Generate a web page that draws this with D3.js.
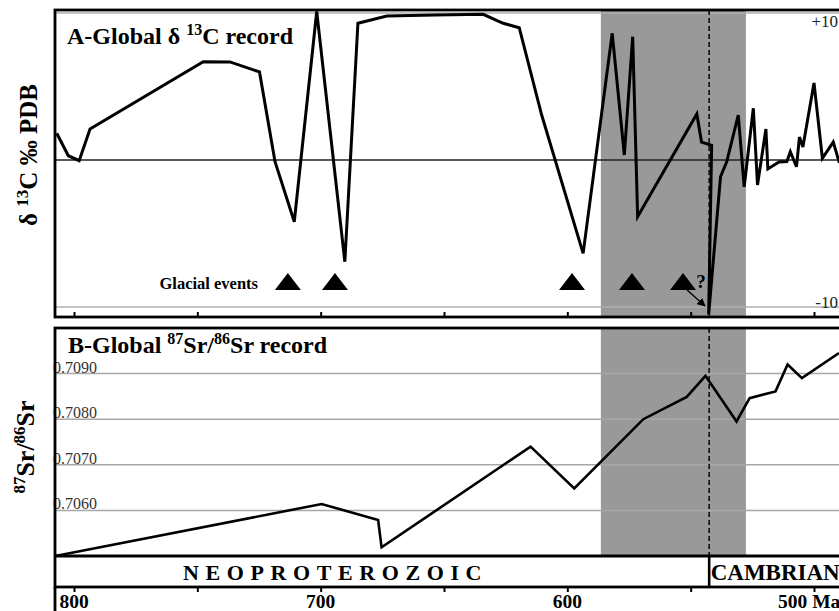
<!DOCTYPE html>
<html>
<head>
<meta charset="utf-8">
<script src="https://cdn.jsdelivr.net/npm/d3@7"></script>
<style>
  html, body { margin: 0; padding: 0; background: #fff; }
  svg { display: block; font-family: "Liberation Serif", "Times New Roman", serif; }
</style>
</head>
<body>
<svg id="chart" width="839" height="611"></svg>
<script>
// ---------- DATA ----------
// Global δ13C record (age Ma, ‰ PDB)
const carbonAges = [807.0, 802.3, 797.9, 793.5, 747.6, 736.8, 724.8, 718.5, 710.7, 701.6, 690.2, 684.9, 673.2, 653.7, 634.1, 626.0, 619.5, 610.4, 593.6, 581.8, 576.9, 573.5, 571.5, 547.5, 545.6, 541.5, 542.7, 537.9, 535.4, 530.7, 528.3, 524.6, 522.9, 519.5, 518.7, 514.2, 511.0, 509.6, 507.1, 505.9, 504.5, 500.0, 496.6, 492.2, 489.7];
const carbonValues = [1.82, 0.29, -0.05, 2.11, 6.69, 6.67, 5.99, -0.12, -4.2, 10.1, -6.92, 9.3, 9.8, 9.86, 9.91, 9.3, 9.0, 3.06, -6.35, 8.62, 0.34, 8.39, -3.86, 3.13, 1.22, 0.99, -10.5, -1.14, -0.12, 3.06, -1.82, 3.52, -1.70, 2.11, -0.61, -0.14, -0.10, 0.56, -0.46, 1.56, 0.88, 5.24, 0.12, 1.22, -0.2];

// Global 87Sr/86Sr record
const srAges = [807.7, 699.6, 676.7, 675.3, 614.9, 597.2, 569.2, 551.6, 544.0, 531.4, 526.1, 515.6, 510.7, 504.9, 489.9];
const srValues = [0.70500, 0.70614, 0.70579, 0.70519, 0.70740, 0.70648, 0.70800, 0.70849, 0.70895, 0.70795, 0.70846, 0.70861, 0.70920, 0.70890, 0.70945];

const glacialAges = [713.3, 694.2, 598.1, 573.8, 553.1];
const srTicks = [0.7090, 0.7080, 0.7070, 0.7060];
const srTickLabels = ["0.7090", "0.7080", "0.7070", "0.7060"];
const ageTicks = [800, 750, 700, 650, 600, 550, 500];
const ageLabels = {800: "800", 700: "700", 600: "600", 500: "500 Ma"};
const shadedBand = [586.4, 527.6];
const boundaryAge = 542.5;
const periods = [{name: "NEOPROTEROZOIC", from: 808, to: 542.5}, {name: "CAMBRIAN", from: 542.5, to: 470}];

// ---------- LAYOUT ----------
const svg = d3.select("#chart");
const W = 839, H = 611;
const left = 55, rightEdge = 880;
const aTop = 10, aBot = 317;
const bTop = 328, bBot = 556, bandBot = 587;

const x = d3.scaleLinear().domain([800, 500]).range([74, 814]);
const yA = d3.scaleLinear().domain([-10, 10]).range([307, 13]);
const yB = d3.scaleLinear().domain([0.7050, 0.7100]).range([bBot, bTop]);

svg.append("rect").attr("width", W).attr("height", H).attr("fill", "#fff");

const defs = svg.append("defs");
defs.append("clipPath").attr("id", "clipA").append("rect")
  .attr("x", left).attr("y", aTop).attr("width", rightEdge - left).attr("height", aBot - aTop);
defs.append("clipPath").attr("id", "clipB").append("rect")
  .attr("x", left).attr("y", bTop).attr("width", rightEdge - left).attr("height", bBot - bTop);
defs.append("marker").attr("id", "arrow").attr("viewBox", "0 0 10 10")
  .attr("refX", 9).attr("refY", 5).attr("markerWidth", 6).attr("markerHeight", 6)
  .attr("orient", "auto").append("path").attr("d", "M0,0 L10,5 L0,10 z").attr("fill", "#000");

// ---------- shaded band ----------
const shadeColor = "#999999";
svg.append("rect").attr("x", x(shadedBand[0])).attr("y", aTop)
  .attr("width", x(shadedBand[1]) - x(shadedBand[0])).attr("height", aBot - aTop).attr("fill", shadeColor);
svg.append("rect").attr("x", x(shadedBand[0])).attr("y", bTop)
  .attr("width", x(shadedBand[1]) - x(shadedBand[0])).attr("height", bBot - bTop).attr("fill", shadeColor);

// ---------- Panel A grid ----------
const gA = svg.append("g").attr("clip-path", "url(#clipA)");
[10, -10].forEach(v => {
  gA.append("line").attr("x1", left).attr("x2", rightEdge).attr("y1", yA(v)).attr("y2", yA(v))
    .attr("stroke", "#b0b0b0").attr("stroke-width", 1.5);
});
gA.append("line").attr("x1", left).attr("x2", rightEdge).attr("y1", yA(0)).attr("y2", yA(0))
  .attr("stroke", "#222").attr("stroke-width", 1.5);

// dashed boundary
gA.append("line").attr("x1", x(boundaryAge)).attr("x2", x(boundaryAge)).attr("y1", aTop).attr("y2", aBot)
  .attr("stroke", "#111").attr("stroke-width", 1.6).attr("stroke-dasharray", "5,3");

// δ13C curve
const carbonData = carbonAges.map((a, i) => [a, carbonValues[i]]);
gA.append("path").datum(carbonData)
  .attr("d", d3.line().x(d => x(d[0])).y(d => yA(d[1])))
  .attr("fill", "none").attr("stroke", "#000").attr("stroke-width", 3).attr("stroke-linejoin", "miter");

// glacial triangles
glacialAges.forEach(a => {
  const cx = x(a);
  svg.append("path").attr("d", `M${cx - 13},290 L${cx},273 L${cx + 13},290 Z`).attr("fill", "#000");
});
svg.append("text").attr("x", 258).attr("y", 289).attr("text-anchor", "end")
  .attr("font-size", 16.5).attr("font-weight", "bold").text("Glacial events");
svg.append("text").attr("x", 701).attr("y", 288).attr("text-anchor", "middle")
  .attr("font-size", 19).attr("font-weight", "bold").text("?");
svg.append("line").attr("x1", x(glacialAges[4]) + 4).attr("y1", 290).attr("x2", 705).attr("y2", 306)
  .attr("stroke", "#000").attr("stroke-width", 1.4).attr("marker-end", "url(#arrow)");

// right labels
svg.append("text").attr("x", 838).attr("y", 27).attr("text-anchor", "end").attr("font-size", 17)
  .attr("fill", "#222").text("+10");
svg.append("text").attr("x", 838).attr("y", 308).attr("text-anchor", "end").attr("font-size", 17)
  .attr("fill", "#222").text("-10");

// Panel A ticks (pointing up from bottom border)
const axA = svg.append("g").attr("transform", `translate(0,${aBot})`)
  .call(d3.axisTop(x).tickValues(ageTicks).tickSize(5).tickFormat(""));
axA.select(".domain").remove();
axA.selectAll("line").attr("stroke", "#000").attr("stroke-width", 2);

// Panel A frame
svg.append("rect").attr("x", left).attr("y", aTop).attr("width", rightEdge - left).attr("height", aBot - aTop)
  .attr("fill", "none").attr("stroke", "#000").attr("stroke-width", 2.8);

// Panel A title
const tA = svg.append("text").attr("x", 67).attr("y", 44).attr("font-size", 24).attr("font-weight", "bold");
tA.append("tspan").text("A-Global δ ");
tA.append("tspan").attr("font-size", 16).attr("dy", -9).text("13");
tA.append("tspan").attr("dy", 9).text("C record");

// Y label A
const lA = svg.append("text").attr("transform", "translate(37,155) rotate(-90)")
  .attr("text-anchor", "middle").attr("font-size", 25).attr("font-weight", "bold");
lA.append("tspan").text("δ ");
lA.append("tspan").attr("font-size", 17).attr("dy", -9).text("13");
lA.append("tspan").attr("dy", 9).text("C ‰ PDB");

// ---------- Panel B ----------
const gB = svg.append("g").attr("clip-path", "url(#clipB)");
srTicks.forEach((v, i) => {
  gB.append("line").attr("x1", left).attr("x2", rightEdge).attr("y1", yB(v)).attr("y2", yB(v))
    .attr("stroke", "#a8a8a8").attr("stroke-width", 1.5);
  svg.append("text").attr("x", 53).attr("y", yB(v) - 1).attr("font-size", 16).attr("fill", "#333")
    .text(srTickLabels[i]);
});
gB.append("line").attr("x1", x(boundaryAge)).attr("x2", x(boundaryAge)).attr("y1", bTop).attr("y2", bBot)
  .attr("stroke", "#111").attr("stroke-width", 1.6).attr("stroke-dasharray", "5,3");

const srData = srAges.map((a, i) => [a, srValues[i]]);
gB.append("path").datum(srData)
  .attr("d", d3.line().x(d => x(d[0])).y(d => yB(d[1])))
  .attr("fill", "none").attr("stroke", "#000").attr("stroke-width", 2.6);

// Panel B frame + period band
svg.append("rect").attr("x", left).attr("y", bTop).attr("width", rightEdge - left).attr("height", bandBot - bTop)
  .attr("fill", "none").attr("stroke", "#000").attr("stroke-width", 2.8);
svg.append("line").attr("x1", left).attr("x2", rightEdge).attr("y1", bBot).attr("y2", bBot)
  .attr("stroke", "#000").attr("stroke-width", 2.8);
svg.append("line").attr("x1", x(boundaryAge)).attr("x2", x(boundaryAge)).attr("y1", bBot).attr("y2", bandBot)
  .attr("stroke", "#000").attr("stroke-width", 2.6);
svg.append("line").attr("x1", left).attr("x2", left).attr("y1", bandBot).attr("y2", H)
  .attr("stroke", "#000").attr("stroke-width", 2.8);

svg.append("text").attr("x", 183).attr("y", 580).attr("font-size", 22).attr("font-weight", "bold")
  .attr("letter-spacing", 6.6).text(periods[0].name);
svg.append("text").attr("x", x(boundaryAge) + 1.5).attr("y", 580).attr("font-size", 23).attr("font-weight", "bold")
  .text(periods[1].name);

// Bottom axis
const axB = svg.append("g").attr("transform", `translate(0,${bandBot})`)
  .call(d3.axisBottom(x).tickValues(ageTicks).tickSize(5).tickFormat(""));
axB.select(".domain").remove();
axB.selectAll("line").attr("stroke", "#000").attr("stroke-width", 2);
ageTicks.filter(t => ageLabels[t]).forEach(t => {
  svg.append("text").attr("x", t === 500 ? x(t) - 36 : x(t)).attr("y", 608)
    .attr("text-anchor", t === 500 ? "start" : "middle")
    .attr("font-size", 19.5).attr("font-weight", "bold").text(ageLabels[t]);
});

// Panel B title
const tB = svg.append("text").attr("x", 68).attr("y", 353).attr("font-size", 24).attr("font-weight", "bold");
tB.append("tspan").text("B-Global ");
tB.append("tspan").attr("font-size", 16).attr("dy", -9).text("87");
tB.append("tspan").attr("dy", 9).text("Sr/");
tB.append("tspan").attr("font-size", 16).attr("dy", -9).text("86");
tB.append("tspan").attr("dy", 9).text("Sr record");

// Y label B
const lB = svg.append("text").attr("transform", "translate(34,447) rotate(-90)")
  .attr("text-anchor", "middle").attr("font-size", 26).attr("font-weight", "bold");
lB.append("tspan").attr("font-size", 17).attr("dy", -9).text("87");
lB.append("tspan").attr("dy", 9).text("Sr/");
lB.append("tspan").attr("font-size", 17).attr("dy", -9).text("86");
lB.append("tspan").attr("dy", 9).text("Sr");
</script>
</body>
</html>
